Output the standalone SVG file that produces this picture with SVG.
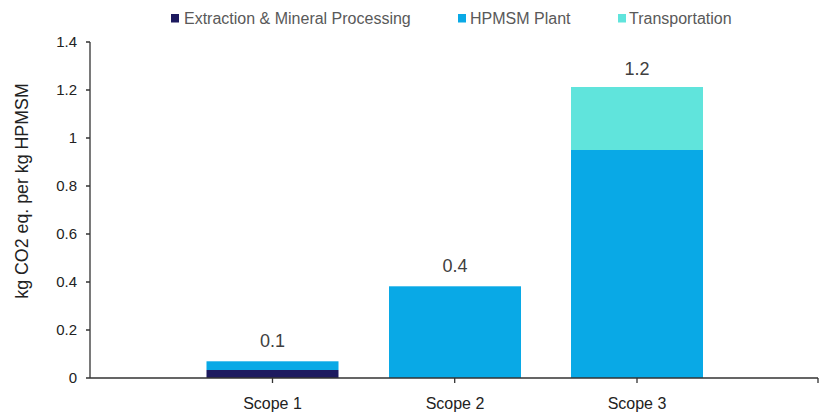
<svg xmlns="http://www.w3.org/2000/svg" width="819" height="412" viewBox="0 0 819 412">
<style>
.tick{font-family:"Liberation Sans",Arial,sans-serif;font-size:15px;fill:#222;text-anchor:end}
.cat{font-family:"Liberation Sans",Arial,sans-serif;font-size:16px;fill:#222;text-anchor:middle}
.val{font-family:"Liberation Sans",Arial,sans-serif;font-size:18px;fill:#404040;text-anchor:middle}
.leg{font-family:"Liberation Sans",Arial,sans-serif;font-size:16px;fill:#595959}
.title{font-family:"Liberation Sans",Arial,sans-serif;font-size:17.8px;fill:#222;text-anchor:middle}
.ax{stroke:#333;stroke-width:1.3;fill:none}
.ext{fill:#1d1a5f}
.plant{fill:#09a9e6}
.trans{fill:#60e4dc}
</style>
<rect width="819" height="412" fill="#fff"/>
<g id="legend">
<rect class="ext" x="171" y="14" width="8" height="8.5"/>
<text class="leg" x="184" y="24">Extraction &amp; Mineral Processing</text>
<rect class="plant" x="458" y="14" width="8" height="8.5"/>
<text class="leg" x="470" y="24">HPMSM Plant</text>
<rect class="trans" x="618" y="14" width="8" height="8.5"/>
<text class="leg" x="629" y="24">Transportation</text>
</g>
<g id="yaxis">
<path class="ax" d="M90 42V378M86 42H90M86 90H90M86 138H90M86 186H90M86 234H90M86 282H90M86 330H90M86 378H90"/>
<text class="tick" x="77" y="47">1.4</text>
<text class="tick" x="77" y="95">1.2</text>
<text class="tick" x="77" y="143">1</text>
<text class="tick" x="77" y="191">0.8</text>
<text class="tick" x="77" y="239">0.6</text>
<text class="tick" x="77" y="287">0.4</text>
<text class="tick" x="77" y="335">0.2</text>
<text class="tick" x="77" y="383">0</text>
<text class="title" transform="translate(28 191) rotate(-90)">kg CO2 eq. per kg HPMSM</text>
</g>
<g id="bars">
<g id="scope1">
<rect class="plant" x="206.5" y="361.3" width="132" height="8.7"/>
<rect class="ext" x="206.5" y="370" width="132" height="8"/>
<text class="val" x="272.5" y="347">0.1</text>
</g>
<g id="scope2">
<rect class="plant" x="389" y="286.3" width="132" height="91.7"/>
<text class="val" x="455" y="272">0.4</text>
</g>
<g id="scope3">
<rect class="plant" x="571" y="150" width="132" height="228"/>
<rect class="trans" x="571" y="87" width="132" height="63"/>
<text class="val" x="637" y="75">1.2</text>
</g>
</g>
<g id="xaxis">
<path class="ax" d="M90 378H818M272.5 378V383M454.7 378V383M637 378V383M818 378V383"/>
<text class="cat" x="272.5" y="409">Scope 1</text>
<text class="cat" x="455" y="409">Scope 2</text>
<text class="cat" x="637" y="409">Scope 3</text>
</g>
</svg>
